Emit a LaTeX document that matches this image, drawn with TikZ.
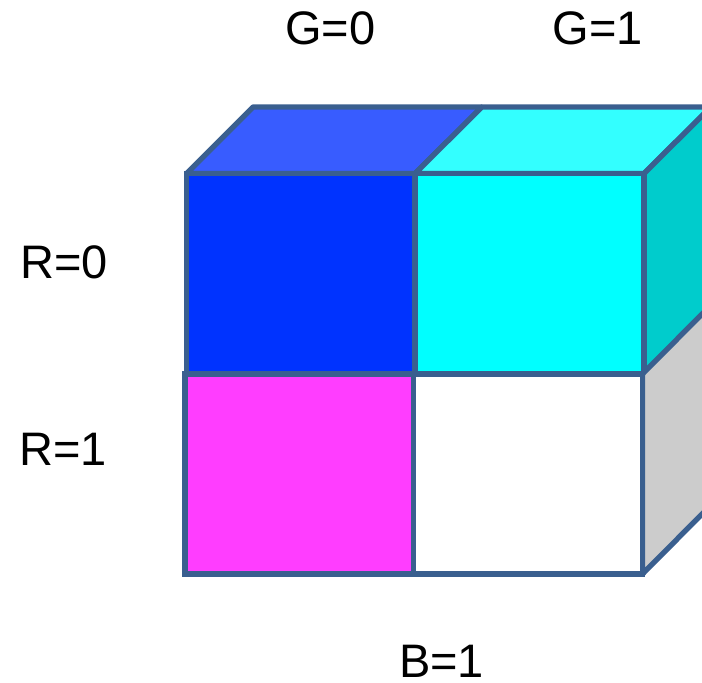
\documentclass[tikz,border=0pt]{standalone}
\usepackage{fontspec}
\setmainfont{Liberation Sans}
\definecolor{edgeblue}{HTML}{3A5F8F}
\definecolor{frontblue}{HTML}{0033FF}
\definecolor{topblue}{HTML}{385CFF}
\definecolor{frontcyan}{HTML}{00FFFF}
\definecolor{topcyan}{HTML}{33FFFF}
\definecolor{sidecyan}{HTML}{00CCCC}
\definecolor{sidegrey}{HTML}{CCCCCC}
\definecolor{frontmagenta}{HTML}{FF3DFF}
\tikzset{
  face/.style={draw=edgeblue,line width=5.3pt,line join=bevel},
  frontface/.style={draw=edgeblue,line width=5.3pt,line join=miter},
  axislabel/.style={font=\fontsize{47}{47}\selectfont,inner sep=0pt,anchor=base}
}
\begin{document}
\begin{tikzpicture}[x=1pt,y=-1pt]
\useasboundingbox (0,0) rectangle (702,683);
\begin{scope}
\clip (0,0) rectangle (702,683);
% top row of the cube
\draw[face,fill=topblue] (186.5,173.5) -- (253,107) -- (482,107) -- (415,173.5) -- cycle;
\draw[face,fill=topcyan] (415,173.5) -- (482,107) -- (711,107) -- (644,173.5) -- cycle;
\draw[face,fill=sidecyan] (644,173.5) -- (711,107) -- (711,307) -- (644,373.5) -- cycle;
\draw[frontface,fill=frontblue] (186.5,173.5) rectangle (415,373.5);
\draw[frontface,fill=frontcyan] (415,173.5) rectangle (644,373.5);
% bottom row of the cube
\draw[face,fill=sidegrey] (642.5,374) -- (709,307) -- (709,507) -- (642.5,574) -- cycle;
\draw[frontface,fill=frontmagenta] (185,374) rectangle (413.5,574);
\draw[frontface,fill=white] (413.5,374) rectangle (642.5,574);
\end{scope}
\node[axislabel] (g0) at (330.5,44.5) {G=0};
\node[axislabel] (g1) at (598,44.5) {G=1};
\node[axislabel] (r0) at (64,278.5) {R=0};
\node[axislabel] (r1) at (63,465.5) {R=1};
\node[axislabel] (b1) at (441.5,677) {B=1};
\end{tikzpicture}
\end{document}
